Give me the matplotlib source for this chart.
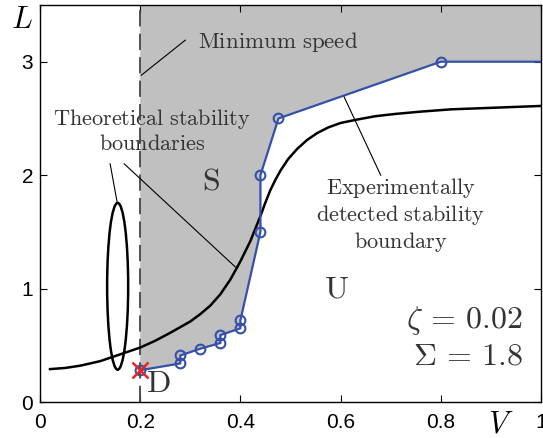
import numpy as np
import matplotlib
matplotlib.use("Agg")
import matplotlib.pyplot as plt
from matplotlib.patches import Ellipse

plt.rcParams['mathtext.fontset'] = 'cm'
plt.rcParams['font.family'] = ['Liberation Sans', 'DejaVu Sans']

exp_V = [0.20, 0.28, 0.28, 0.32, 0.36, 0.36, 0.40, 0.40, 0.44, 0.44, 0.476, 0.80, 1.00]
exp_L = [0.28, 0.34, 0.41, 0.47, 0.52, 0.59, 0.65, 0.72, 1.50, 2.00, 2.50, 3.00, 3.00]
exp_mark = 12  # last point is only the line end

# theoretical boundary (black)
th_V = [0.02, 0.05, 0.08, 0.12, 0.16, 0.20, 0.23, 0.26, 0.28, 0.30, 0.32, 0.34, 0.36,
        0.38, 0.40, 0.42, 0.44, 0.45, 0.46, 0.47, 0.48, 0.495, 0.513, 0.533, 0.553,
        0.575, 0.60, 0.633, 0.67, 0.71, 0.76, 0.82, 0.88, 0.94, 1.00]
th_L = [0.29, 0.30, 0.32, 0.36, 0.42, 0.48, 0.54, 0.61, 0.66, 0.71, 0.775, 0.85, 0.95,
        1.08, 1.24, 1.42, 1.64, 1.76, 1.87, 1.96, 2.04, 2.14, 2.23, 2.31, 2.37,
        2.42, 2.46, 2.49, 2.52, 2.54, 2.56, 2.58, 2.59, 2.60, 2.61]

# closed theoretical boundary (ellipse)
ell_center = (0.155, 1.02)
ell_width = 0.042
ell_height = 1.47

v_min = 0.2
blue = '#3550a8'
grey_txt = '#333333'

fig = plt.figure(figsize=(5.43, 4.38), dpi=100)
ax = fig.add_axes([40/543, 1-402/438, 501/543, 397/438])
ax.set_xlim(0, 1)
ax.set_ylim(0, 3.5)

# stable region
poly_V = exp_V + [1.0, v_min]
poly_L = exp_L + [3.5, 3.5]
ax.fill(poly_V, poly_L, color='#c0c0c0', lw=0, zorder=1)

ax.plot([v_min, v_min], [0, 3.5], color='#444444', lw=1.3, dashes=(9, 4), zorder=2)

ax.plot(th_V, th_L, color='black', lw=1.8, zorder=3, solid_joinstyle='round')
ax.add_patch(Ellipse(ell_center, ell_width, ell_height, fill=False, ec='black', lw=1.8, zorder=3))

ax.plot(exp_V, exp_L, color=blue, lw=1.6, zorder=4)
ax.plot(exp_V[:exp_mark], exp_L[:exp_mark], 'o', mfc='none', mec=blue, mew=1.5, ms=7, zorder=5)
ax.plot([exp_V[0]], [exp_L[0]], 'x', color='#ee2222', ms=11, mew=1.8, zorder=6)

# annotations
fs = 16.5
ax.text(0.476, 3.17, r'$\mathrm{Minimum\ speed}$', fontsize=fs, ha='center', va='center', color=grey_txt)
ax.plot([0.29, 0.202], [3.19, 2.88], color='black', lw=0.8)
ax.text(0.224, 2.39, '$\\mathrm{Theoretical\\ stability}$\n$\\mathrm{boundaries}$', fontsize=16,
        ha='center', va='center', color=grey_txt, linespacing=1.15)
ax.plot([0.14, 0.154], [2.1, 1.76], color='black', lw=0.8)
ax.plot([0.168, 0.39], [2.1, 1.19], color='black', lw=0.8)
ax.text(0.72, 1.65, '$\\mathrm{Experimentally}$\n$\\mathrm{detected\\ stability}$\n$\\mathrm{boundary}$',
        fontsize=16, ha='center', va='center', color=grey_txt, linespacing=1.15)
ax.plot([0.606, 0.68], [2.70, 2.0], color='black', lw=0.8)

ax.text(0.342, 1.94, r'$\mathrm{S}$', fontsize=23, ha='center', va='center', color=grey_txt)
ax.text(0.592, 0.99, r'$\mathrm{U}$', fontsize=23, ha='center', va='center', color=grey_txt)
ax.text(0.236, 0.16, r'$\mathrm{D}$', fontsize=23, ha='center', va='center', color=grey_txt)

ax.text(0.964, 0.72, r'$\zeta\,=\,0.02$', fontsize=23, ha='right', va='center', color=grey_txt)
ax.text(0.964, 0.40, r'$\mathit{\Sigma}\,=\,1.8$', fontsize=23, ha='right', va='center', color=grey_txt)

ax.text(-0.036, 3.30, r'$L$', fontsize=22, ha='center', va='baseline', clip_on=False)
ax.text(0.92, -0.27, r'$V$', fontsize=22, ha='center', va='baseline', clip_on=False)

ax.set_xticks([0, 0.2, 0.4, 0.6, 0.8, 1])
ax.set_xticklabels(['0', '0.2', '0.4', '0.6', '0.8', '1'])
ax.set_yticks([0, 1, 2, 3])
ax.tick_params(direction='in', top=True, right=True, labelsize=15, length=5, width=0.8)
ax.tick_params(axis='x', pad=8)
ax.tick_params(axis='y', pad=5)
for s in ax.spines.values():
    s.set_linewidth(1.0)

fig.savefig('out.png', dpi=100)
